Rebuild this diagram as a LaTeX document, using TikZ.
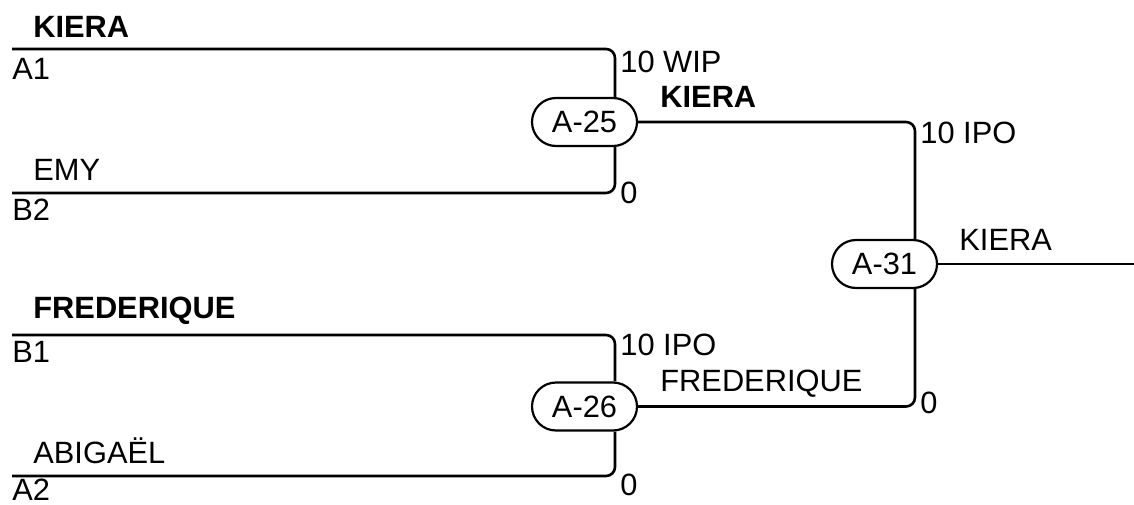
\documentclass[tikz,border=0pt]{standalone}
\usepackage{fontspec}
\setmainfont{Liberation Sans}
\begin{document}
\begin{tikzpicture}[x=0.5pt,y=-0.5pt,
  every node/.style={font=\fontsize{15.4pt}{18pt}\selectfont},
  wire/.style={line width=1.3pt, rounded corners=4.5pt},
  match/.style={draw, line width=1.1pt, minimum width=52.5pt, minimum height=24pt, rounded corners=12pt, inner sep=0pt},
  lbl/.style={anchor=base west, inner sep=0pt},
  blbl/.style={lbl, font=\fontsize{15.4pt}{18pt}\selectfont\bfseries}]
\useasboundingbox (0,0) rectangle (1134,504);
% match nodes
\node[match] (a25) at (584.5,122) {A-25};
\node[match] (a31) at (884.5,264) {A-31};
\node[match] (a26) at (584.5,406.5) {A-26};
% helper coordinates
\coordinate (c25) at (615,0);
\coordinate (c31) at (915,0);
\coordinate (sA1) at (12,49);
\coordinate (sB2) at (12,193);
\coordinate (sB1) at (12,335);
\coordinate (sA2) at (12,476);
\coordinate (eout) at (1134,264);
% wires
\draw[wire] (sA1) -| (a25.north -| c25);
\draw[wire] (sB2) -| (a25.south -| c25);
\draw[wire] (sB1) -| (a26.north -| c25);
\draw[wire] (sA2) -| (a26.south -| c25);
\draw[wire] (a25.east) -| (a31.north -| c31);
\draw[wire] (a26.east) -| (a31.south -| c31);
\draw[wire] (a31.east) -- (eout);
% labels
\node[blbl] (lk1) at (33,37) {KIERA};
\node[lbl] (la1) at (12,79) {A1};
\node[lbl] (lemy) at (33,180) {EMY};
\node[lbl] (lb2) at (12,220) {B2};
\node[lbl] (lwip) at (620,72) {10 WIP};
\node[blbl] (lk2) at (660,107) {KIERA};
\node[lbl] (l0a) at (620,203) {0};
\node[lbl] (lipo1) at (920,143) {10 IPO};
\node[lbl] (lk3) at (959,250) {KIERA};
\node[blbl] (lf1) at (33,318) {FREDERIQUE};
\node[lbl] (lb1) at (12,362) {B1};
\node[lbl] (lipo2) at (620,355) {10 IPO};
\node[lbl] (lf2) at (660,391) {FREDERIQUE};
\node[lbl] (l0c) at (920,413) {0};
\node[lbl] (labi) at (33,463) {ABIGAËL};
\node[lbl] (la2) at (12,500) {A2};
\node[lbl] (l0b) at (620,495) {0};
\end{tikzpicture}
\end{document}
